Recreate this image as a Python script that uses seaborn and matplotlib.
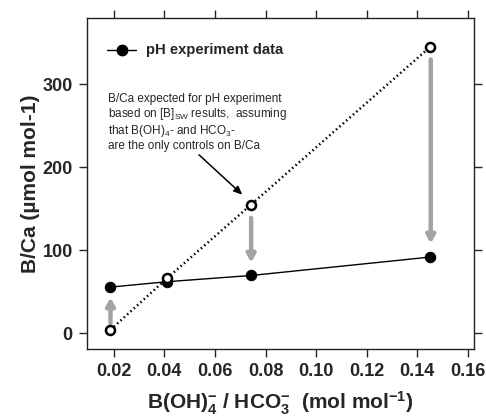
import matplotlib
matplotlib.use("Agg")
import matplotlib.pyplot as plt
import seaborn as sns
import pandas as pd

# Data
ratio = [0.0187, 0.041, 0.0743, 0.145]
bca_measured = [55.5, 62, 69.5, 91.7]
bca_expected = [4, 66, 155, 345]

# gray arrow start/end values (expected -> measured)
arrow_from = [12, 139, 330]
arrow_to = [43, 85, 108]
arrow_x = [0.0187, 0.0743, 0.1453]

xticks = [0.02, 0.04, 0.06, 0.08, 0.10, 0.12, 0.14, 0.16]
yticks = [0, 100, 200, 300]

df_m = pd.DataFrame({"x": ratio, "y": bca_measured})
df_e = pd.DataFrame({"x": ratio, "y": bca_expected})

sns.set_style("ticks")
plt.rcParams["font.family"] = ["Liberation Sans", "DejaVu Sans"]
plt.rcParams["mathtext.fontset"] = "custom"
plt.rcParams["mathtext.rm"] = "Liberation Sans"
plt.rcParams["mathtext.bf"] = "Liberation Sans:bold"
plt.rcParams["mathtext.it"] = "Liberation Sans"

fig = plt.figure(figsize=(4.86, 4.16), dpi=100)
ax = fig.add_axes([86.7 / 486, 1 - 349.3 / 416, (474 - 86.7) / 486, (349.3 - 18) / 416])

sns.lineplot(data=df_m, x="x", y="y", ax=ax, color="black", lw=1.0,
             marker="o", markersize=7.5, markerfacecolor="black",
             markeredgecolor="black", zorder=3)
sns.lineplot(data=df_e, x="x", y="y", ax=ax, color="black", lw=1.8,
             linestyle=(0, (0.6, 1.2)), marker="o", markersize=6.5,
             markerfacecolor="white", markeredgecolor="black", markeredgewidth=1.8,
             zorder=4)

for xa, y0, y1 in zip(arrow_x, arrow_from, arrow_to):
    ax.annotate("", xy=(xa, y1), xytext=(xa, y0),
                arrowprops=dict(arrowstyle="-|>,head_length=0.45,head_width=0.25",
                                lw=3.2, color="#a3a3a3", shrinkA=0, shrinkB=0),
                zorder=2)

# legend-like entry
ax.plot([0.0172, 0.0287], [341, 341], color="black", lw=1.0)
ax.plot([0.0232], [341], marker="o", color="black", markersize=7.5)
ax.text(0.0327, 341, "pH experiment data", fontsize=10.7, fontweight="bold",
        va="center", ha="left")

ax.text(0.0178, 290,
        "B/Ca expected for pH experiment\n"
        "based on [B]$_{\\mathregular{SW}}$ results,  assuming\n"
        "that B(OH)$_{\\mathregular{4}}$- and HCO$_{\\mathregular{3}}$-\n"
        "are the only controls on B/Ca",
        fontsize=8.5, va="top", ha="left", linespacing=1.1)
ax.annotate("", xy=(0.0708, 167), xytext=(0.0537, 215),
            arrowprops=dict(arrowstyle="-|>,head_length=0.5,head_width=0.22",
                            lw=1.1, color="black", shrinkA=0, shrinkB=0))

ax.set_xlim(0.0093, 0.1624)
ax.set_ylim(-19.5, 380)
ax.set_xticks(xticks)
ax.set_xticklabels([f"{v:.2f}" for v in xticks])
ax.set_yticks(yticks)
ax.set_yticklabels([str(v) for v in yticks])
ax.tick_params(axis="both", which="both", direction="out", length=6, width=1,
               labelsize=13, top=True, right=True, pad=4)
for lab in ax.get_xticklabels() + ax.get_yticklabels():
    lab.set_fontweight("bold")
for sp in ax.spines.values():
    sp.set_visible(True)
    sp.set_linewidth(1.0)
    sp.set_color("#222222")

ax.set_xlabel("B(OH)$_\\mathbf{4}^\\mathbf{-}$ / HCO$_\\mathbf{3}^\\mathbf{-}$  (mol mol$^\\mathbf{-1}$)",
              fontsize=15, fontweight="bold", labelpad=7)
ax.set_ylabel("B/Ca (µmol mol-1)", fontsize=15,
              fontweight="bold", labelpad=2)

fig.savefig("out.png", dpi=100)
